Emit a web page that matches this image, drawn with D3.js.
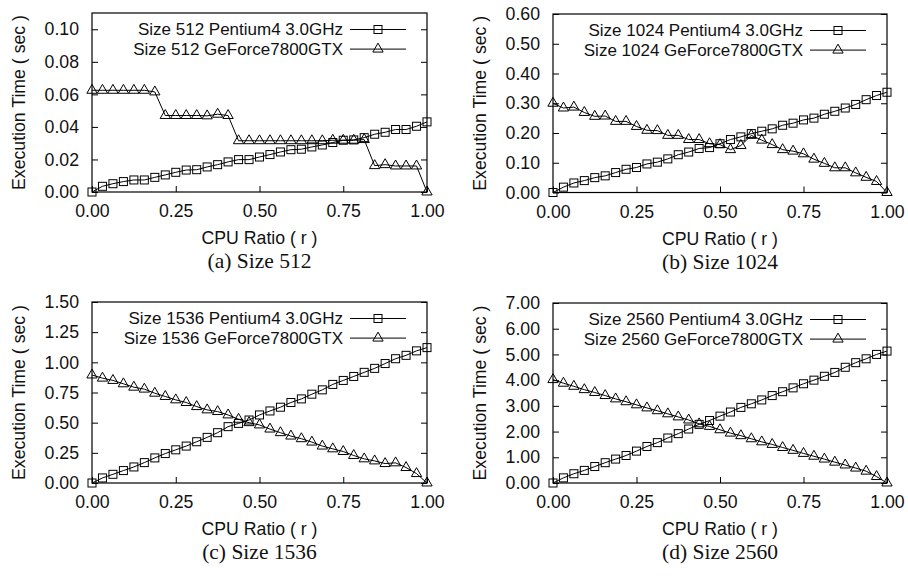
<!DOCTYPE html>
<html>
<head>
<meta charset="utf-8">
<script src="https://cdn.jsdelivr.net/npm/d3@7/dist/d3.min.js"></script>
<style>
  html, body { margin: 0; padding: 0; background: #fff; }
  svg { display: block; }
  .sans { font-family: "Liberation Sans", Arial, Helvetica, sans-serif; }
  .serif { font-family: "Liberation Serif", "Times New Roman", serif; }
</style>
</head>
<body>
<svg id="chart" width="908" height="576"></svg>
<script>
// x values: CPU ratio r = 0, 1/32, ..., 1 (33 samples)
const ratios = [0,0.03125,0.0625,0.09375,0.125,0.15625,0.1875,0.21875,0.25,0.28125,0.3125,0.34375,0.375,0.40625,0.4375,0.46875,0.5,0.53125,0.5625,0.59375,0.625,0.65625,0.6875,0.71875,0.75,0.78125,0.8125,0.84375,0.875,0.90625,0.9375,0.96875,1];
const xTicks = [0, 0.25, 0.5, 0.75, 1];

// Size 512
const cpu512 = [0.000,0.0035,0.0051,0.0064,0.0074,0.0074,0.0090,0.0105,0.0121,0.0135,0.0137,0.0154,0.0168,0.0185,0.0199,0.0199,0.0215,0.0230,0.0246,0.0260,0.0263,0.0277,0.0289,0.0304,0.0318,0.0320,0.0334,0.0355,0.0367,0.0384,0.0384,0.0404,0.0431];
const gpu512 = [0.0625,0.0625,0.0625,0.0625,0.0625,0.0625,0.0615,0.0470,0.0470,0.0470,0.0470,0.0468,0.0478,0.0470,0.0315,0.0315,0.0315,0.0315,0.0315,0.0315,0.0315,0.0315,0.0315,0.0318,0.0318,0.0318,0.0322,0.0162,0.0168,0.0160,0.0160,0.0160,0.0000];
const yTicks512 = [0, 0.02, 0.04, 0.06, 0.08, 0.10];

// Size 1024
const cpu1024 = [0.000,0.018,0.032,0.040,0.050,0.056,0.067,0.078,0.084,0.096,0.102,0.113,0.127,0.136,0.148,0.151,0.164,0.178,0.187,0.198,0.206,0.214,0.226,0.233,0.244,0.250,0.263,0.273,0.284,0.296,0.312,0.326,0.337];
const gpu1024 = [0.300,0.284,0.287,0.269,0.256,0.257,0.239,0.239,0.222,0.209,0.208,0.192,0.192,0.178,0.178,0.164,0.161,0.144,0.158,0.192,0.176,0.161,0.144,0.139,0.130,0.112,0.098,0.083,0.083,0.066,0.051,0.037,0.000];
const yTicks1024 = [0, 0.1, 0.2, 0.3, 0.4, 0.5, 0.6];

// Size 1536
const cpu1536 = [0.000,0.042,0.072,0.103,0.133,0.169,0.208,0.244,0.275,0.306,0.342,0.378,0.417,0.467,0.494,0.522,0.564,0.597,0.628,0.667,0.697,0.736,0.772,0.817,0.850,0.883,0.917,0.950,0.990,1.030,1.058,1.095,1.122];
const gpu1536 = [0.895,0.869,0.850,0.822,0.794,0.778,0.744,0.717,0.689,0.667,0.633,0.606,0.592,0.564,0.528,0.500,0.481,0.447,0.417,0.389,0.367,0.339,0.306,0.283,0.261,0.228,0.200,0.183,0.161,0.167,0.128,0.078,0.000];
const yTicks1536 = [0, 0.25, 0.5, 0.75, 1.0, 1.25, 1.5];

// Size 2560
const cpu2560 = [0.00,0.20,0.36,0.49,0.64,0.79,0.93,1.07,1.24,1.42,1.57,1.75,1.92,2.10,2.28,2.43,2.60,2.76,2.94,3.08,3.23,3.40,3.55,3.70,3.86,4.00,4.15,4.30,4.50,4.68,4.83,5.00,5.13];
const gpu2560 = [4.02,3.88,3.76,3.63,3.52,3.40,3.27,3.16,3.04,2.92,2.81,2.69,2.57,2.45,2.30,2.20,2.07,1.94,1.84,1.72,1.60,1.50,1.38,1.27,1.15,1.04,0.93,0.81,0.70,0.58,0.46,0.25,0.00];
const yTicks2560 = [0, 1, 2, 3, 4, 5, 6, 7];

const panels = [
  { size: "512",  cap: "(a)", cpu: cpu512,  gpu: gpu512,  yTicks: yTicks512,  yMax: 0.11, box: [92, 13, 427, 192] },
  { size: "1024", cap: "(b)", cpu: cpu1024, gpu: gpu1024, yTicks: yTicks1024, yMax: 0.6,  box: [553, 14, 887, 192.5] },
  { size: "1536", cap: "(c)", cpu: cpu1536, gpu: gpu1536, yTicks: yTicks1536, yMax: 1.5,  box: [92, 302, 427, 483] },
  { size: "2560", cap: "(d)", cpu: cpu2560, gpu: gpu2560, yTicks: yTicks2560, yMax: 7,    box: [553, 303, 887, 483] }
];

const FS = 17.7;
const LFS = 17;
const svg = d3.select("#chart");
const fmt = d3.format(".2f");
const tri = d3.symbol().type(d3.symbolTriangle).size(46);

function drawPanel(p) {
  const [x0, y0, x1, y1] = p.box;
  const x = d3.scaleLinear().domain([0, 1]).range([x0, x1]);
  const y = d3.scaleLinear().domain([0, p.yMax]).range([y1, y0]);
  const g = svg.append("g");

  // inward ticks on left (with labels) and mirrored on right
  const left = d3.axisLeft(y).tickValues(p.yTicks).tickFormat(fmt).tickSizeInner(-6).tickSizeOuter(0).tickPadding(13);
  const gl = g.append("g").attr("transform", `translate(${x0},0)`).call(left);
  const right = d3.axisRight(y).tickValues(p.yTicks).tickFormat("").tickSizeInner(-6).tickSizeOuter(0);
  const gr = g.append("g").attr("transform", `translate(${x1},0)`).call(right);
  const bottom = d3.axisBottom(x).tickValues(xTicks).tickFormat(fmt).tickSizeInner(-6).tickSizeOuter(0).tickPadding(12.5);
  const gb = g.append("g").attr("transform", `translate(0,${y1})`).call(bottom);
  [gl, gr, gb].forEach(a => {
    a.select(".domain").remove();
    a.selectAll("line").attr("stroke", "#000").attr("stroke-width", 1);
    a.selectAll("text").attr("class", "sans").attr("font-size", FS).attr("fill", "#111");
  });

  // frame
  g.append("rect").attr("x", x0).attr("y", y0).attr("width", x1 - x0).attr("height", y1 - y0)
    .attr("fill", "none").attr("stroke", "#000").attr("stroke-width", 1.2);

  const line = d3.line().x((d, i) => x(ratios[i])).y(d => y(d));
  const series = [{ v: p.cpu, m: "sq" }, { v: p.gpu, m: "tri" }];
  series.forEach(s => {
    g.append("path").datum(s.v).attr("d", line).attr("fill", "none").attr("stroke", "#000").attr("stroke-width", 1);
    drawMarkers(g, s.v.map((d, i) => [x(ratios[i]), y(d)]), s.m);
  });

  // legend
  const names = [`Size ${p.size} Pentium4 3.0GHz`, `Size ${p.size} GeForce7800GTX`];
  const marks = ["sq", "tri"];
  names.forEach((n, k) => {
    const ly = y0 + 16.5 + k * 19.6;
    g.append("text").attr("class", "sans").attr("font-size", LFS).attr("fill", "#111")
      .attr("x", x1 - 84).attr("y", ly).attr("dy", "0.35em").attr("text-anchor", "end").text(n);
    g.append("line").attr("x1", x1 - 77).attr("x2", x1 - 21).attr("y1", ly).attr("y2", ly)
      .attr("stroke", "#000").attr("stroke-width", 1);
    drawMarkers(g, [[x1 - 49, ly]], marks[k]);
  });

  // axis titles
  g.append("text").attr("class", "sans").attr("font-size", FS).attr("fill", "#111")
    .attr("text-anchor", "middle").attr("x", (x0 + x1) / 2).attr("y", y1 + 52).text("CPU Ratio ( r )");
  g.append("text").attr("class", "sans").attr("font-size", FS).attr("fill", "#111")
    .attr("text-anchor", "middle")
    .attr("transform", `translate(${x0 - 73},${(y0 + y1) / 2}) rotate(-90)`).attr("dy", "0.35em")
    .text("Execution Time ( sec )");
  // caption
  g.append("text").attr("class", "serif").attr("font-size", 21.5).attr("fill", "#111")
    .attr("text-anchor", "middle").attr("x", (x0 + x1) / 2).attr("y", y1 + 76).text(`${p.cap} Size ${p.size}`);
}

function drawMarkers(g, pts, m) {
  if (m === "sq") {
    g.selectAll(null).data(pts).enter().append("rect")
      .attr("x", d => d[0] - 4).attr("y", d => d[1] - 4).attr("width", 8).attr("height", 8)
      .attr("fill", "none").attr("stroke", "#000").attr("stroke-width", 1);
  } else {
    g.selectAll(null).data(pts).enter().append("path")
      .attr("d", tri).attr("transform", d => `translate(${d[0]},${d[1]})`)
      .attr("fill", "none").attr("stroke", "#000").attr("stroke-width", 1);
  }
}

panels.forEach(drawPanel);
</script>
</body>
</html>
